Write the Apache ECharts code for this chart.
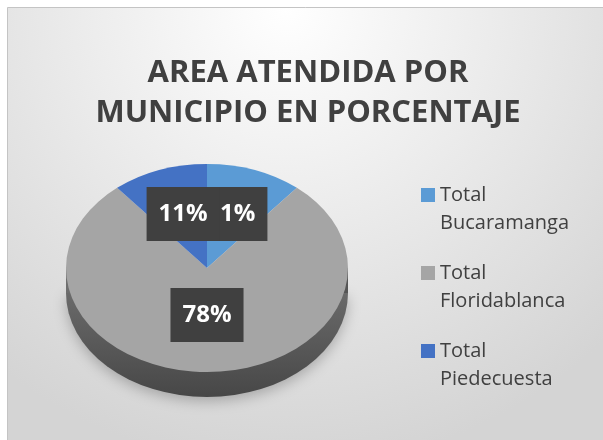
<!DOCTYPE html>
<html>
<head>
<meta charset="utf-8">
<script src="https://cdn.jsdelivr.net/npm/echarts@6/dist/echarts.min.js"></script>
<style>
  html, body { margin: 0; padding: 0; background: #fff; }
  #chart { width: 603px; height: 440px; }
</style>
</head>
<body>
<div id="chart"></div>
<script>
// data
const categories = ['Total Bucaramanga', 'Total Floridablanca', 'Total Piedecuesta'];
const shares = [11, 78, 11];
const shareLabels = ['11%', '78%', '11%'];

const palette = ['#5b9bd5', '#a5a5a5', '#4472c4'];

// elliptical "3D" pie geometry
const cx = 207, cy = 268, rx = 141, ry = 104, depth = 25;
const total = shares.reduce((a, b) => a + b, 0);

function sliceItem(params, api) {
  const start = api.value(0);
  const val = api.value(1);
  const a0 = -Math.PI / 2 + 2 * Math.PI * start / total;
  const a1 = -Math.PI / 2 + 2 * Math.PI * (start + val) / total;
  const mid = (a0 + a1) / 2;
  const color = api.visual('color');
  const children = [];
  if (params.seriesIndex === 1) {
    // side wall, only the front half shows
    children.push({
      type: 'sector',
      z2: -2,
      shape: { cx: cx, cy: cy + depth, r: rx, r0: 0, startAngle: 0, endAngle: Math.PI },
      scaleY: ry / rx, originX: cx, originY: cy + depth,
      style: {
        fill: new echarts.graphic.LinearGradient(0, 0, 0, 1, [
          { offset: 0, color: '#6a6a6a' }, { offset: 1, color: '#474747' }
        ]),
        shadowBlur: 14, shadowColor: 'rgba(0,0,0,0.25)', shadowOffsetY: 4
      }
    });
    children.push({
      type: 'rect',
      z2: -1,
      shape: { x: cx - rx, y: cy, width: rx * 2, height: depth },
      style: {
        fill: new echarts.graphic.LinearGradient(0, 0, 1, 0, [
          { offset: 0, color: '#6e6e6e' }, { offset: 0.5, color: '#5e5e5e' }, { offset: 1, color: '#555555' }
        ])
      }
    });
  }
  children.push({
    type: 'sector',
    z2: 0,
    shape: { cx: cx, cy: cy, r: rx, r0: 0, startAngle: a0, endAngle: a1, clockwise: true },
    scaleY: ry / rx, originX: cx, originY: cy,
    style: { fill: color }
  });
  children.push({
    type: 'text',
    z2: 10,
    style: {
      text: shareLabels[params.seriesIndex],
      x: cx + 0.5 * rx * Math.cos(mid),
      y: cy + 0.5 * ry * Math.sin(mid) - 5,
      align: 'center',
      verticalAlign: 'middle',
      fill: '#ffffff',
      font: 'bold 24px "Open Sans", sans-serif',
      lineHeight: 28,
      backgroundColor: '#404040',
      padding: [13, 12],
      boxShadowBlur: 5,
      boxShadowColor: 'rgba(0,0,0,0.45)',
      boxShadowOffsetX: 2,
      boxShadowOffsetY: 2
    }
  });
  return { type: 'group', children: children };
}

let acc = 0;
const series = categories.map(function (name, i) {
  const item = [acc, shares[i]];
  acc += shares[i];
  return {
    name: name,
    type: 'custom',
    coordinateSystem: 'none',
    renderItem: sliceItem,
    data: [item],
    silent: true
  };
});

const chart = echarts.init(document.getElementById('chart'));
chart.setOption({
  animation: false,
  color: palette,
  graphic: [{
    type: 'rect',
    z: -10,
    shape: { x: 7.5, y: 7.5, width: 620, height: 460 },
    style: {
      fill: new echarts.graphic.RadialGradient(0.45, 0.0, 1.0, [
        { offset: 0, color: '#ffffff' }, { offset: 1, color: '#d4d4d4' }
      ]),
      stroke: '#c4c4c4',
      lineWidth: 1
    }
  }],
  title: {
    text: 'AREA ATENDIDA POR\nMUNICIPIO EN PORCENTAJE',
    left: 303,
    textAlign: 'center',
    top: 48,
    textStyle: {
      fontFamily: 'Open Sans',
      fontWeight: 'bold',
      fontSize: 31,
      lineHeight: 40,
      color: '#404040'
    }
  },
  legend: {
    orient: 'vertical',
    left: 416,
    top: 148,
    itemWidth: 14,
    itemHeight: 14,
    itemGap: -6,
    icon: 'rect',
    // blank first line keeps the marker level with "Total"
    formatter: function (name) { return ' \n' + name.replace(' ', '\n'); },
    textStyle: {
      fontFamily: 'Open Sans',
      fontSize: 20,
      lineHeight: 28,
      color: '#404040'
    }
  },
  series: series
});
</script>
</body>
</html>
